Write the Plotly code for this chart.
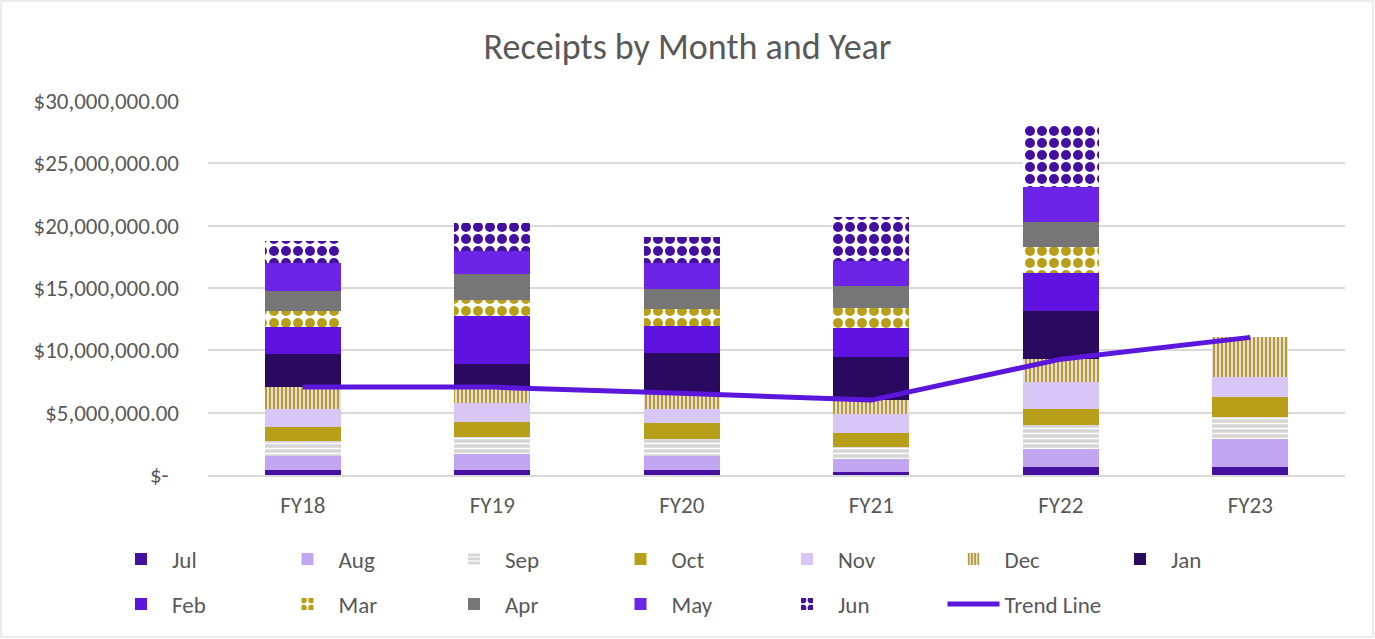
import plotly.graph_objects as go

years = ["FY18", "FY19", "FY20", "FY21", "FY22", "FY23"]
months = ["Jul", "Aug", "Sep", "Oct", "Nov", "Dec", "Jan", "Feb", "Mar", "Apr", "May", "Jun"]

# values in dollars
jul = [0.40e6, 0.40e6, 0.43e6, 0.27e6, 0.62e6, 0.67e6]
aug = [1.12e6, 1.31e6, 1.12e6, 0.99e6, 1.44e6, 2.20e6]
sep = [1.23e6, 1.31e6, 1.31e6, 0.96e6, 1.93e6, 1.81e6]
oct_ = [1.12e6, 1.25e6, 1.28e6, 1.12e6, 1.33e6, 1.58e6]
nov = [1.42e6, 1.47e6, 1.15e6, 1.52e6, 2.17e6, 1.58e6]
dec = [1.79e6, 1.31e6, 1.26e6, 1.15e6, 1.80e6, 3.21e6]
jan = [2.62e6, 1.82e6, 3.21e6, 3.47e6, 3.87e6, None]
feb = [2.14e6, 3.90e6, 2.17e6, 2.28e6, 3.07e6, None]
mar = [1.31e6, 1.26e6, 1.36e6, 1.60e6, 2.09e6, None]
apr = [1.60e6, 2.06e6, 1.63e6, 1.79e6, 1.98e6, None]
may = [2.22e6, 1.87e6, 2.06e6, 2.03e6, 2.78e6, None]
jun = [1.79e6, 2.25e6, 2.13e6, 3.53e6, 4.92e6, None]
trend = [7.06e6, 7.05e6, 6.55e6, 6.01e6, 9.29e6, 11.04e6]

tick_vals = [0, 5e6, 10e6, 15e6, 20e6, 25e6, 30e6]
tick_text = ["$-" + "\u00a0" * 2, "$5,000,000.00", "$10,000,000.00", "$15,000,000.00",
             "$20,000,000.00", "$25,000,000.00", "$30,000,000.00"]

series = [jul, aug, sep, oct_, nov, dec, jan, feb, mar, apr, may, jun]

GOLD = "#B89F1A"
styles = {
    "Jul": dict(color="#43109F"),
    "Aug": dict(color="#C3A6F2"),
    "Sep": dict(color="#D5D5D5", pattern=dict(shape="-", fgcolor="white", size=5, solidity=0.3)),
    "Oct": dict(color=GOLD),
    "Nov": dict(color="#D8C6F7"),
    "Dec": dict(color="#E4D9F6", pattern=dict(shape="|", fgcolor=GOLD, size=4, solidity=0.5)),
    "Jan": dict(color="#290A5E"),
    "Feb": dict(color="#5F13E0"),
    "Mar": dict(color="white", pattern=dict(shape=".", fgcolor=GOLD, size=12, solidity=0.55)),
    "Apr": dict(color="#767676"),
    "May": dict(color="#6C24E6"),
    "Jun": dict(color="white", pattern=dict(shape=".", fgcolor="#43109F", size=12, solidity=0.55)),
}

fig = go.Figure()
for i, (m, vals) in enumerate(zip(months, series)):
    st = styles[m]
    marker = dict(color=st["color"], line=dict(width=0))
    if "pattern" in st:
        p = dict(st["pattern"])
        p["fillmode"] = "replace"
        p["bgcolor"] = st["color"]
        marker["pattern"] = p
    fig.add_trace(go.Bar(
        x=years, y=vals, name=m, marker=marker,
        legend="legend" if i < 7 else "legend2",
    ))

fig.add_trace(go.Scatter(
    x=years, y=trend, name="Trend Line", mode="lines",
    line=dict(color="#5B16DC", width=5), legend="legend2",
))

FONT = "Calibri, Carlito, Lato, sans-serif"
GREY = "#595959"
L, R, T, B = 208, 30, 101, 164
W, H = 1375, 639
pw = W - L - R
ph = H - T - B

def px_x(x):
    return (x - L) / pw

def px_y(y):
    return (H - B - y) / ph

legend_common = dict(
    orientation="h", xanchor="left", yanchor="middle",
    entrywidth=99.5, entrywidthmode="pixels",
    font=dict(family=FONT, size=23, color=GREY),
    bgcolor="rgba(0,0,0,0)", itemwidth=52, traceorder="normal",
)

fig.update_layout(
    width=W, height=H,
    barmode="stack", bargap=0.6,
    paper_bgcolor="white", plot_bgcolor="white",
    margin=dict(l=L, r=R, t=T, b=B, autoexpand=False),
    title=dict(text="Receipts by Month and Year", x=0.5, xanchor="center",
               y=1 - 46 / H, yanchor="middle",
               font=dict(family=FONT, size=36, color=GREY)),
    font=dict(family=FONT, size=23, color=GREY),
    legend=dict(x=px_x(110), y=px_y(559), **legend_common),
    legend2=dict(x=px_x(110), y=px_y(604), **legend_common),
    xaxis=dict(showgrid=False, showline=True, linecolor="#D9D9D9", linewidth=1.5,
               ticks="", ticklabelstandoff=9,
               tickfont=dict(family=FONT, size=23, color=GREY)),
    yaxis=dict(range=[0, 30e6], tickvals=tick_vals, ticktext=tick_text,
               showgrid=True, gridcolor="#D9D9D9", gridwidth=1.5, zeroline=False,
               showline=False, ticks="", ticklabelstandoff=28,
               tickfont=dict(family=FONT, size=23, color=GREY)),
    shapes=[dict(type="rect", xref="paper", yref="paper",
                 x0=px_x(1), x1=px_x(1373), y0=px_y(637), y1=px_y(1),
                 line=dict(color="#D9D9D9", width=1), layer="below")],
)

fig.write_html("out.html", config={"displayModeBar": False},
               post_script="document.body.style.margin='0px';")
